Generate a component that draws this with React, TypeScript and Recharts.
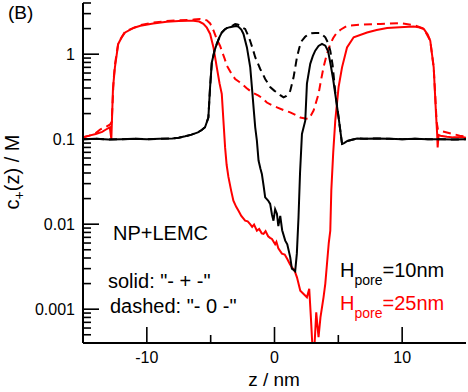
import { LineChart, Line, XAxis, YAxis } from 'recharts';

// z positions (nm) and concentrations (M)
const zBlackSolid = [-15, -14, -13, -12, -11, -10, -9, -8, -7.5, -7, -6.5, -6, -5.7, -5.44, -5.18, -5.05, -4.91, -4.7, -4.52, -4.3, -4.13, -3.9, -3.73, -3.5, -3.22, -3.0, -2.82, -2.6, -2.43, -2.16, -1.9, -1.77, -1.6, -1.51, -1.38, -1.25, -1.1, -0.99, -0.85, -0.73, -0.5, -0.34, -0.2, -0.08, 0.05, 0.19, 0.3, 0.45, 0.6, 0.84, 1.0, 1.23, 1.36, 1.5, 1.62, 1.75, 1.88, 2.0, 2.15, 2.41, 2.54, 2.8, 3.0, 3.19, 3.45, 3.72, 3.98, 4.2, 4.4, 4.6, 4.76, 5.02, 5.29, 5.45, 5.68, 6.0, 6.47, 7, 8, 9, 10, 11, 12, 13, 14, 15];
const cBlackSolid = [0.1, 0.101, 0.099, 0.1, 0.101, 0.1, 0.101, 0.102, 0.104, 0.108, 0.113, 0.12, 0.128, 0.138, 0.18, 0.4, 0.8, 1.1, 1.32, 1.6, 1.8, 1.95, 2.03, 2.08, 2.11, 2.15, 2.1, 1.95, 1.73, 1.2, 0.7, 0.41, 0.2, 0.138, 0.096, 0.056, 0.045, 0.039, 0.028, 0.0207, 0.019, 0.0173, 0.013, 0.011, 0.015, 0.0133, 0.0095, 0.0125, 0.0085, 0.0064, 0.0058, 0.0041, 0.003, 0.0029, 0.0028, 0.0045, 0.012, 0.04, 0.115, 0.165, 0.45, 0.77, 0.95, 1.1, 1.25, 1.32, 1.26, 1.08, 0.75, 0.5, 0.34, 0.18, 0.088, 0.09, 0.095, 0.098, 0.102, 0.101, 0.102, 0.101, 0.1, 0.101, 0.1, 0.1, 0.099, 0.1];

const zBlackDashed = [-15, -14, -13, -12, -11, -10, -9, -8, -7.5, -7, -6.5, -6, -5.7, -5.44, -5.18, -5.05, -4.91, -4.7, -4.52, -4.3, -4.13, -3.9, -3.73, -3.5, -3.22, -3.08, -2.9, -2.69, -2.5, -2.3, -2.1, -1.91, -1.7, -1.51, -1.3, -1.12, -0.9, -0.73, -0.5, -0.34, 0, 0.19, 0.45, 0.71, 0.9, 1.1, 1.23, 1.49, 1.76, 1.95, 2.15, 2.4, 2.67, 2.9, 3.19, 3.58, 3.98, 4.2, 4.37, 4.55, 4.76, 5.02, 5.29, 5.45, 5.68, 6.0, 6.47, 7, 8, 9, 10, 11, 12, 13, 14, 15];
const cBlackDashed = [0.1, 0.101, 0.099, 0.1, 0.101, 0.1, 0.101, 0.102, 0.104, 0.108, 0.113, 0.12, 0.128, 0.138, 0.18, 0.4, 0.8, 1.1, 1.32, 1.6, 1.8, 1.95, 2.03, 2.1, 2.2, 2.26, 2.24, 2.16, 2.05, 1.98, 1.7, 1.44, 1.15, 0.92, 0.78, 0.67, 0.58, 0.51, 0.45, 0.41, 0.37, 0.355, 0.33, 0.31, 0.32, 0.34, 0.37, 0.53, 0.92, 1.2, 1.44, 1.6, 1.73, 1.76, 1.78, 1.78, 1.58, 1.35, 1.1, 0.75, 0.36, 0.18, 0.088, 0.09, 0.095, 0.098, 0.102, 0.101, 0.102, 0.101, 0.1, 0.101, 0.1, 0.1, 0.099, 0.1];

const zRedSolid = [-15, -14.5, -14, -13.5, -13.2, -12.9, -12.78, -12.65, -12.5, -12.24, -11.95, -11.7, -11, -10.5, -9.5, -8.44, -7.5, -6.8, -6.35, -5.9, -5.57, -5.3, -5.04, -4.78, -4.52, -4.3, -4.13, -4.0, -3.87, -3.75, -3.61, -3.4, -3.22, -3.0, -2.82, -2.6, -2.3, -2.1, -1.91, -1.75, -1.6, -1.38, -1.2, -1.0, -0.86, -0.7, -0.5, -0.35, -0.2, 0.05, 0.15, 0.3, 0.58, 0.8, 1.0, 1.2, 1.36, 1.55, 1.76, 2.02, 2.3, 2.54, 2.72, 2.85, 3.0, 3.1, 3.27, 3.38, 3.45, 3.6, 3.72, 3.84, 3.98, 4.11, 4.25, 4.37, 4.45, 4.6, 4.76, 5.02, 5.29, 5.68, 6.2, 7.25, 8.0, 8.82, 9.8, 10.9, 11.3, 11.69, 12.0, 12.2, 12.47, 12.65, 12.74, 12.78, 12.85, 13.0, 13.5, 14, 14.8, 15];
const cRedSolid = [0.105, 0.11, 0.115, 0.122, 0.13, 0.138, 0.1, 0.4, 0.7, 1.32, 1.6, 1.8, 2.05, 2.16, 2.3, 2.41, 2.45, 2.48, 2.48, 2.42, 2.27, 2.05, 1.73, 1.2, 0.7, 0.45, 0.34, 0.165, 0.08, 0.05, 0.036, 0.025, 0.0189, 0.016, 0.0144, 0.0125, 0.011, 0.0108, 0.01, 0.0093, 0.0099, 0.0084, 0.0088, 0.0078, 0.0077, 0.0083, 0.0072, 0.0069, 0.0067, 0.0058, 0.0062, 0.0052, 0.0045, 0.0044, 0.0039, 0.0034, 0.0031, 0.0029, 0.00237, 0.00165, 0.0015, 0.00138, 0.00174, 0.0008, 0.0003, 0.0003, 0.00092, 0.0006, 0.00047, 0.0008, 0.00105, 0.00138, 0.002, 0.0034, 0.006, 0.0084, 0.025, 0.07, 0.165, 0.41, 0.7, 1.2, 1.58, 1.8, 1.92, 2.03, 2.08, 2.11, 2.07, 1.98, 1.7, 1.44, 0.7, 0.2, 0.115, 0.08, 0.112, 0.11, 0.107, 0.105, 0.105, 0.104];

const zRedDashed = [-15, -14.5, -14, -13.66, -13.2, -12.9, -12.75, -12.6, -12.5, -12.24, -11.7, -10.5, -9.5, -8.44, -7.5, -6.35, -5.83, -5.3, -5.04, -4.78, -4.52, -4.26, -4.13, -3.9, -3.73, -3.4, -3.08, -2.75, -2.43, -2.2, -1.91, -1.6, -1.25, -0.9, -0.6, -0.2, 0.19, 0.7, 1.23, 1.6, 2.02, 2.4, 2.67, 2.85, 3.06, 3.25, 3.45, 3.65, 3.84, 4.1, 4.37, 4.6, 4.89, 5.2, 5.68, 6.72, 8.29, 9.86, 10.9, 11.69, 12.2, 12.47, 12.7, 12.8, 13, 13.5, 14, 14.5, 15];
const cRedDashed = [0.105, 0.11, 0.118, 0.13, 0.14, 0.148, 0.16, 0.5, 0.75, 1.35, 1.85, 2.2, 2.35, 2.45, 2.5, 2.55, 2.59, 2.5, 2.3, 1.9, 1.5, 1.25, 1.1, 0.88, 0.73, 0.6, 0.51, 0.47, 0.43, 0.4, 0.37, 0.345, 0.325, 0.3, 0.27, 0.25, 0.237, 0.22, 0.207, 0.195, 0.18, 0.175, 0.173, 0.19, 0.217, 0.27, 0.34, 0.5, 0.7, 1.0, 1.32, 1.55, 1.8, 1.95, 2.16, 2.22, 2.27, 2.31, 2.2, 2.0, 1.44, 0.7, 0.16, 0.13, 0.125, 0.12, 0.115, 0.11, 0.107];

const xTicks = [-10, -5, 0, 5, 10];
const xMajor = [-10, 0, 10];
const xLabels = ['-10', '0', '10'];
const yMajor = [0.001, 0.01, 0.1, 1];
const yLabels = ['0.001', '0.01', '0.1', '1'];
const yMinorSteps = [2, 3, 4, 5, 6, 7, 8, 9];

const yTicks = [0.0004, 0.0005, 0.0006, 0.0007, 0.0008, 0.0009];
yMajor.forEach((d) => {
  yTicks.push(d);
  yMinorSteps.forEach((m) => {
    if (m * d <= 4) yTicks.push(m * d);
  });
});

const toRows = (zs: number[], cs: number[]) => zs.map((z, i) => ({ z, c: cs[i] }));
const blackSolid = toRows(zBlackSolid, cBlackSolid);
const blackDashed = toRows(zBlackDashed, cBlackDashed);
const redSolid = toRows(zRedSolid, cRedSolid);
const redDashed = toRows(zRedDashed, cRedDashed);

const FONT = '"Liberation Sans", Arial, Helvetica, sans-serif';
const MAJOR = 16;
const MINOR = 8;
const TM = 8;
const LW = 1.6;

const LeftTick = (props: any) => {
  const { x, y, payload } = props;
  const i = yMajor.indexOf(payload.value);
  const ax = x + TM;
  return (
    <g>
      <line x1={ax} x2={ax + (i >= 0 ? MAJOR : MINOR)} y1={y} y2={y} stroke="#000" strokeWidth={LW} />
      {i >= 0 && (
        <text x={x} y={y} dy="0.36em" textAnchor="end" fontSize={16} fontFamily={FONT} fill="#000">
          {yLabels[i]}
        </text>
      )}
    </g>
  );
};

const RightTick = (props: any) => {
  const { x, y, payload } = props;
  const major = yMajor.includes(payload.value);
  return <line x1={x} x2={x - (major ? MAJOR : MINOR)} y1={y} y2={y} stroke="#000" strokeWidth={LW} />;
};

const BottomTick = (props: any) => {
  const { x, y, payload } = props;
  const i = xMajor.indexOf(payload.value);
  const ay = y - TM;
  return (
    <g>
      <line x1={x} x2={x} y1={ay} y2={ay - (i >= 0 ? MAJOR : MINOR)} stroke="#000" strokeWidth={LW} />
      {i >= 0 && (
        <text x={x} y={y + 12} textAnchor="middle" fontSize={16} fontFamily={FONT} fill="#000">
          {xLabels[i]}
        </text>
      )}
    </g>
  );
};

const TopTick = (props: any) => {
  const { x, y, payload } = props;
  const major = xMajor.includes(payload.value);
  return <line x1={x} x2={x} y1={y} y2={y + (major ? MAJOR : MINOR)} stroke="#000" strokeWidth={LW} />;
};

export default function App() {
  const axisLine = { stroke: '#000', strokeWidth: 2 };
  return (
    <div style={{ position: 'absolute', left: 0, top: 0, width: 468, height: 392, background: '#fff' }}>
      <LineChart width={468} height={392} margin={{ top: 3, right: 2, bottom: 0, left: 0 }}>
        <XAxis xAxisId="b" dataKey="z" type="number" domain={[-15, 15]} allowDataOverflow ticks={xTicks}
          interval={0} height={49} tickSize={0} tickMargin={TM} tickLine={false} axisLine={axisLine} tick={BottomTick} />
        <XAxis xAxisId="t" orientation="top" dataKey="z" type="number" domain={[-15, 15]} allowDataOverflow ticks={xTicks}
          interval={0} height={0} tickSize={0} tickMargin={0} tickLine={false} axisLine={axisLine} tick={TopTick} />
        <YAxis yAxisId="l" type="number" scale="log" domain={[0.0004, 4]} allowDataOverflow ticks={yTicks}
          interval={0} width={83} tickSize={0} tickMargin={TM} tickLine={false} axisLine={axisLine} tick={LeftTick} />
        <YAxis yAxisId="r" orientation="right" type="number" scale="log" domain={[0.0004, 4]} allowDataOverflow ticks={yTicks}
          interval={0} width={0} tickSize={0} tickMargin={0} tickLine={false} axisLine={axisLine} tick={RightTick} />
        <Line xAxisId="b" yAxisId="l" data={redSolid} dataKey="c" type="linear" stroke="#ff0000" strokeWidth={2}
          dot={false} isAnimationActive={false} />
        <Line xAxisId="b" yAxisId="l" data={redDashed} dataKey="c" type="linear" stroke="#ff0000" strokeWidth={2}
          strokeDasharray="8 5" dot={false} isAnimationActive={false} />
        <Line xAxisId="b" yAxisId="l" data={blackSolid} dataKey="c" type="linear" stroke="#000" strokeWidth={2}
          dot={false} isAnimationActive={false} />
        <Line xAxisId="b" yAxisId="l" data={blackDashed} dataKey="c" type="linear" stroke="#000" strokeWidth={2}
          strokeDasharray="8 5" dot={false} isAnimationActive={false} />
      </LineChart>
      <svg width={468} height={392} style={{ position: 'absolute', left: 0, top: 0, pointerEvents: 'none' }}
        fontFamily={FONT}>
        <text x={8} y={19} fontSize={19}>(B)</text>
        <text x={19} y={172} fontSize={20} textAnchor="middle" transform="rotate(-90 19 172)">
          c<tspan fontSize={14} dy={5}>+</tspan><tspan dy={-5}>(z) / M</tspan>
        </text>
        <text x={274} y={386} fontSize={19} textAnchor="middle">z / nm</text>
        <text x={113} y={240} fontSize={20}>NP+LEMC</text>
        <text x={108} y={288} fontSize={20}>solid: "- + -"</text>
        <text x={110} y={313} fontSize={20}>dashed: "- 0 -"</text>
        <text x={340} y={277} fontSize={20}>
          H<tspan fontSize={14} dy={8}>pore</tspan><tspan dy={-8}>=10nm</tspan>
        </text>
        <text x={340} y={310} fontSize={20} fill="#ff0000">
          H<tspan fontSize={14} dy={8}>pore</tspan><tspan dy={-8}>=25nm</tspan>
        </text>
      </svg>
    </div>
  );
}
